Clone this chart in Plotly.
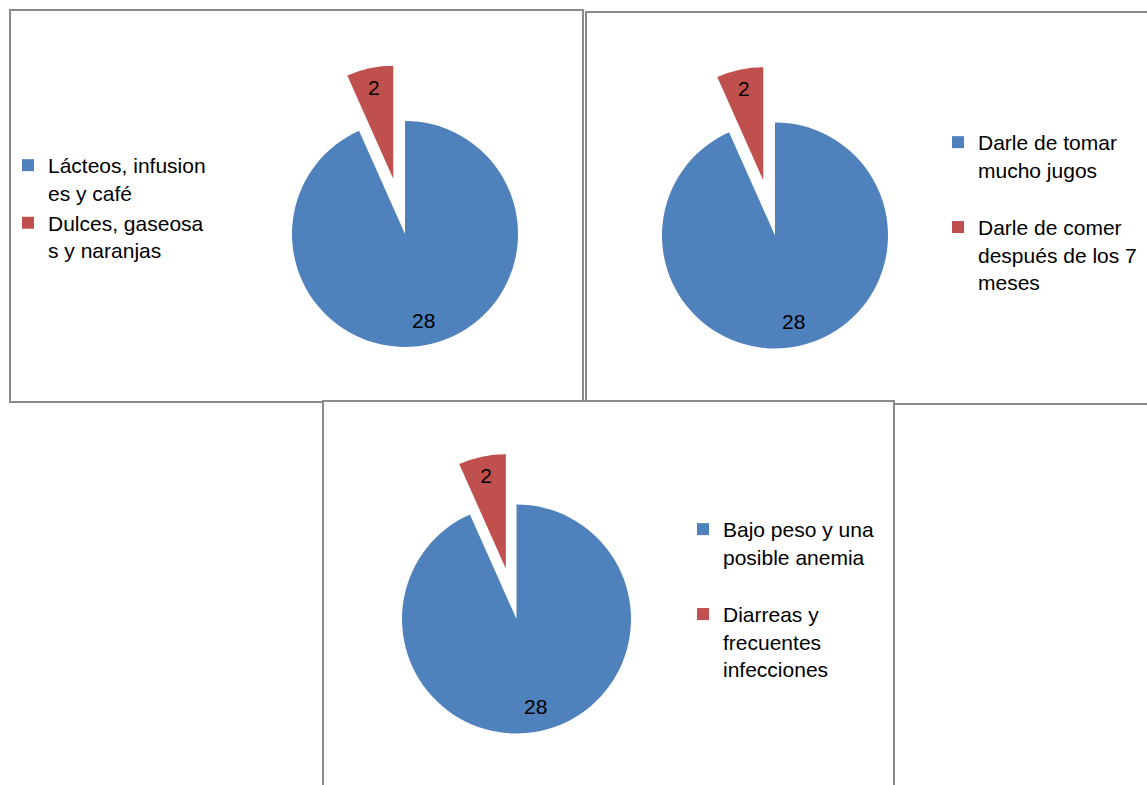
import math
import plotly.graph_objects as go

W, H = 1147, 785

# ---- data ----
labels_1 = ["Lácteos, infusion<br>es y café", "Dulces, gaseosa<br>s y naranjas"]
values_1 = [28, 2]
labels_2 = ["Darle de tomar<br>mucho jugos<br> ", "Darle de comer<br>después de los 7<br>meses"]
values_2 = [28, 2]
labels_3 = ["Bajo peso y una<br>posible anemia<br> ", "Diarreas y<br>frecuentes<br>infecciones"]
values_3 = [28, 2]
slice_colors = ["#4F81BD", "#C0504D"]

FONT = "Liberation Sans, Arial, sans-serif"
VAL_SIZE = 21


def px_domain(cx, cy, r, p):
    half = r * (1 + p)
    x0 = max(0.0, (cx - half) / W)
    x1 = min(1.0, (cx + half) / W)
    y0 = max(0.0, 1 - (cy + half) / H)
    y1 = min(1.0, 1 - (cy - half) / H)
    return dict(x=[x0, x1], y=[y0, y1])


def pie(labels, values, domain, pull, legend):
    return go.Pie(
        labels=labels,
        values=values,
        domain=domain,
        sort=False,
        direction="clockwise",
        rotation=0,
        pull=[0, pull],
        marker=dict(colors=slice_colors, line=dict(width=0)),
        textinfo="value",
        textposition=["none", "inside"],
        insidetextorientation="horizontal",
        textfont=dict(family=FONT, size=VAL_SIZE, color="black"),
        hovertemplate="%{value}<extra></extra>",
        legend=legend,
    )


def big_slice_label(values, domain, pull, frac=0.78):
    """Value label of the large slice, placed along its mid-angle like the original."""
    wpx = (domain["x"][1] - domain["x"][0]) * W
    hpx = (domain["y"][1] - domain["y"][0]) * H
    r = min(wpx, hpx) / (2 + 2 * pull)
    cx = (domain["x"][0] + domain["x"][1]) / 2 * W
    cy = (1 - (domain["y"][0] + domain["y"][1]) / 2) * H
    mid = 2 * math.pi * (values[0] / 2) / sum(values)
    x = cx + frac * r * math.sin(mid)
    y = cy - frac * r * math.cos(mid)
    return dict(x=x / W, y=1 - y / H, xref="paper", yref="paper",
                text=str(values[0]), showarrow=False,
                font=dict(family=FONT, size=VAL_SIZE, color="black"),
                xanchor="center", yanchor="middle")


P = 0.5
dom1 = px_domain(405, 234, 113, P)
dom2 = px_domain(775, 235.5, 113, P)
P3 = 0.45
y0_px = 453
dom3 = dict(x=[(516.5 - 170) / W, (516.5 + 170) / W], y=[0.0, 1 - y0_px / H])

fig = go.Figure()
fig.add_trace(pie(labels_1, values_1, dom1, P, "legend"))
fig.add_trace(pie(labels_2, values_2, dom2, P, "legend2"))
fig.add_trace(pie(labels_3, values_3, dom3, P3, "legend3"))

box_line = dict(color="#8a8a8a", width=2)


def box(x0, y0, x1, y1):
    return dict(type="rect", xref="paper", yref="paper",
                x0=x0 / W, x1=x1 / W, y0=1 - y1 / H, y1=1 - y0 / H,
                line=box_line, fillcolor="white", layer="below")


legend_common = dict(xanchor="left", yanchor="top", valign="top",
                     font=dict(family=FONT, size=21, color="black"),
                     bgcolor="rgba(0,0,0,0)", borderwidth=0)

fig.update_layout(
    width=W, height=H, autosize=False,
    margin=dict(l=0, r=0, t=0, b=0),
    paper_bgcolor="white", plot_bgcolor="white",
    shapes=[box(10, 10, 583, 402), box(586, 12, 1152, 404), box(323, 401, 894, 792)],
    annotations=[big_slice_label(values_1, dom1, P),
                 big_slice_label(values_2, dom2, P),
                 big_slice_label(values_3, dom3, P3)],
    legend=dict(x=8 / W, y=1 - 145 / H, **legend_common),
    legend2=dict(x=938 / W, y=1 - 122 / H, **legend_common),
    legend3=dict(x=683 / W, y=1 - 509 / H, **legend_common),
)

fig.write_html("out.html")
